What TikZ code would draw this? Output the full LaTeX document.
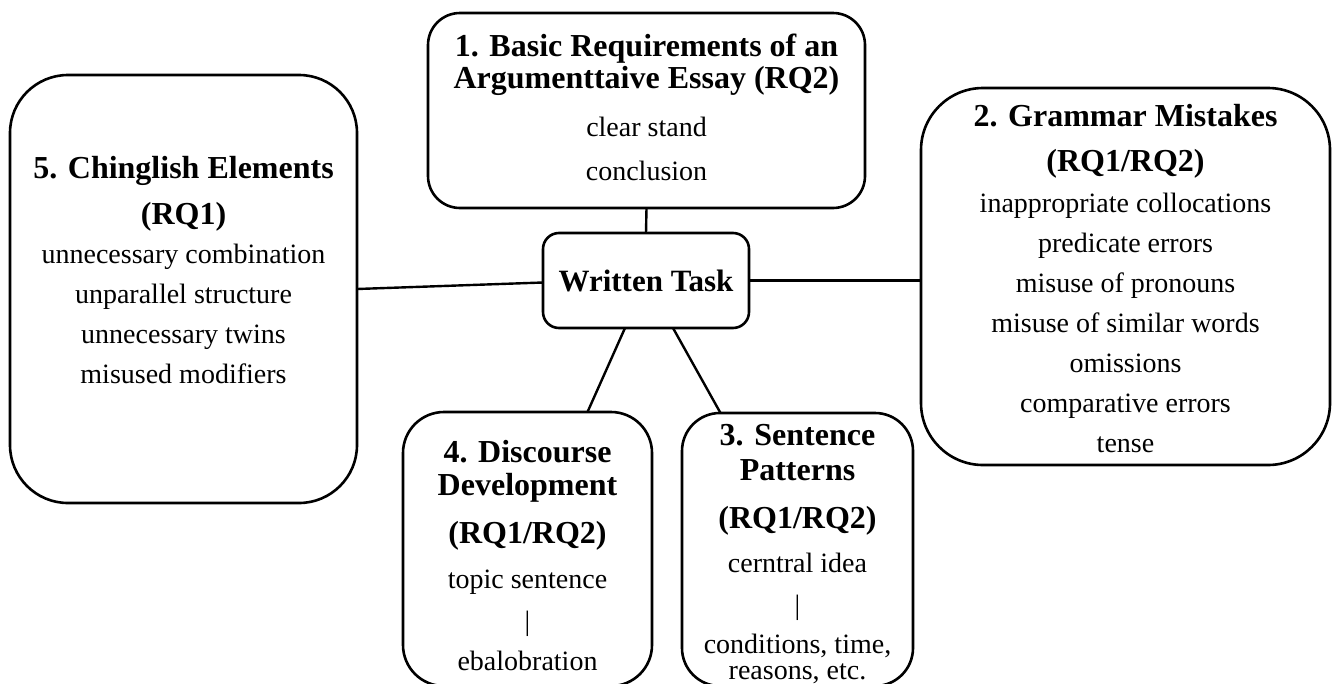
\documentclass[tikz,border=0pt]{standalone}
\usepackage{fontspec}
\setmainfont{Liberation Serif}
\begin{document}
\begin{tikzpicture}[x=1pt,y=-1pt,
  box/.style={draw=black,line width=2.6pt,inner sep=0pt,outer sep=0pt},
  conn/.style={draw=black,line width=2.4pt},
  ttl/.style={anchor=base,inner sep=0pt,font=\bfseries\fontsize{32}{32}\selectfont},
  body/.style={anchor=base,inner sep=0pt,font=\fontsize{28}{28}\selectfont}]
\useasboundingbox (0,0) rectangle (1338,683);
\fill[white] (0,0) rectangle (1338,683);
\clip (0,0) rectangle (1338,683);
% boxes
\node[box,rounded corners=32pt,minimum width=437pt,minimum height=195pt] (b1) at (646.5,110.5) {};
\node[box,rounded corners=16pt,minimum width=206pt,minimum height=95pt,font=\bfseries\fontsize{31}{31}\selectfont] (wt) at (646,280.5) {Written Task};
\node[box,rounded corners=58pt,minimum width=347pt,minimum height=428pt] (b5) at (183.5,289) {};
\node[box,rounded corners=62pt,minimum width=409pt,minimum height=377pt] (b2) at (1125.5,276.5) {};
\node[box,rounded corners=41pt,minimum width=249pt,minimum height=274pt] (b4) at (527.5,549) {};
\node[box,rounded corners=38pt,minimum width=231pt,minimum height=273pt] (b3) at (797.5,549.5) {};
% connectors
\draw[conn] (b1.south) -- (wt.north);
\draw[conn] (b5.east) -- ([yshift=-2pt]wt.west);
\draw[conn] (wt.east) -- (wt.east -| b2.west);
\draw[conn] ([xshift=-21pt]wt.south) -- ([xshift=60pt]b4.north);
\draw[conn] ([xshift=27pt]wt.south) -- ([xshift=-77pt]b3.north);
% box 1 text
\node[ttl] (b1t1) at (646.5,56) {1. Basic Requirements of an};
\node[ttl] (b1t2) at (646.5,88) {Argumenttaive Essay (RQ2)};
\node[body] (b1t3) at (646.5,136) {clear stand};
\node[body] (b1t4) at (646.5,180) {conclusion};
% box 5 text
\node[ttl] (b5t1) at (183.5,178) {5. Chinglish Elements};
\node[ttl] (b5t2) at (183.5,224) {(RQ1)};
\node[body] (b5t3) at (183.5,263) {unnecessary combination};
\node[body] (b5t4) at (183.5,303) {unparallel structure};
\node[body] (b5t5) at (183.5,343) {unnecessary twins};
\node[body] (b5t6) at (183.5,383) {misused modifiers};
% box 2 text
\node[ttl] (b2t1) at (1125.5,126) {2. Grammar Mistakes};
\node[ttl] (b2t2) at (1125.5,171) {(RQ1/RQ2)};
\node[body] (b2t3) at (1125.5,212) {inappropriate collocations};
\node[body] (b2t4) at (1125.5,252) {predicate errors};
\node[body] (b2t5) at (1125.5,292) {misuse of pronouns};
\node[body] (b2t6) at (1125.5,332) {misuse of similar words};
\node[body] (b2t7) at (1125.5,372) {omissions};
\node[body] (b2t8) at (1125.5,412) {comparative errors};
\node[body] (b2t9) at (1125.5,452) {tense};
% box 4 text
\node[ttl] (b4t1) at (527.5,462) {4. Discourse};
\node[ttl] (b4t2) at (527.5,495) {Development};
\node[ttl] (b4t3) at (527.5,543) {(RQ1/RQ2)};
\node[body] (b4t4) at (527.5,588) {topic sentence};
\node[body] (b4t5) at (527.5,630) {|};
\node[body] (b4t6) at (527.5,670) {ebalobration};
% box 3 text
\node[ttl] (b3t1) at (797.5,445) {3. Sentence};
\node[ttl] (b3t2) at (797.5,480) {Patterns};
\node[ttl] (b3t3) at (797.5,528) {(RQ1/RQ2)};
\node[body] (b3t4) at (797.5,572) {cerntral idea};
\node[body] (b3t5) at (797.5,614) {|};
\node[body] (b3t6) at (797.5,653) {conditions, time,};
\node[body] (b3t7) at (797.5,679) {reasons, etc.};
\end{tikzpicture}
\end{document}
